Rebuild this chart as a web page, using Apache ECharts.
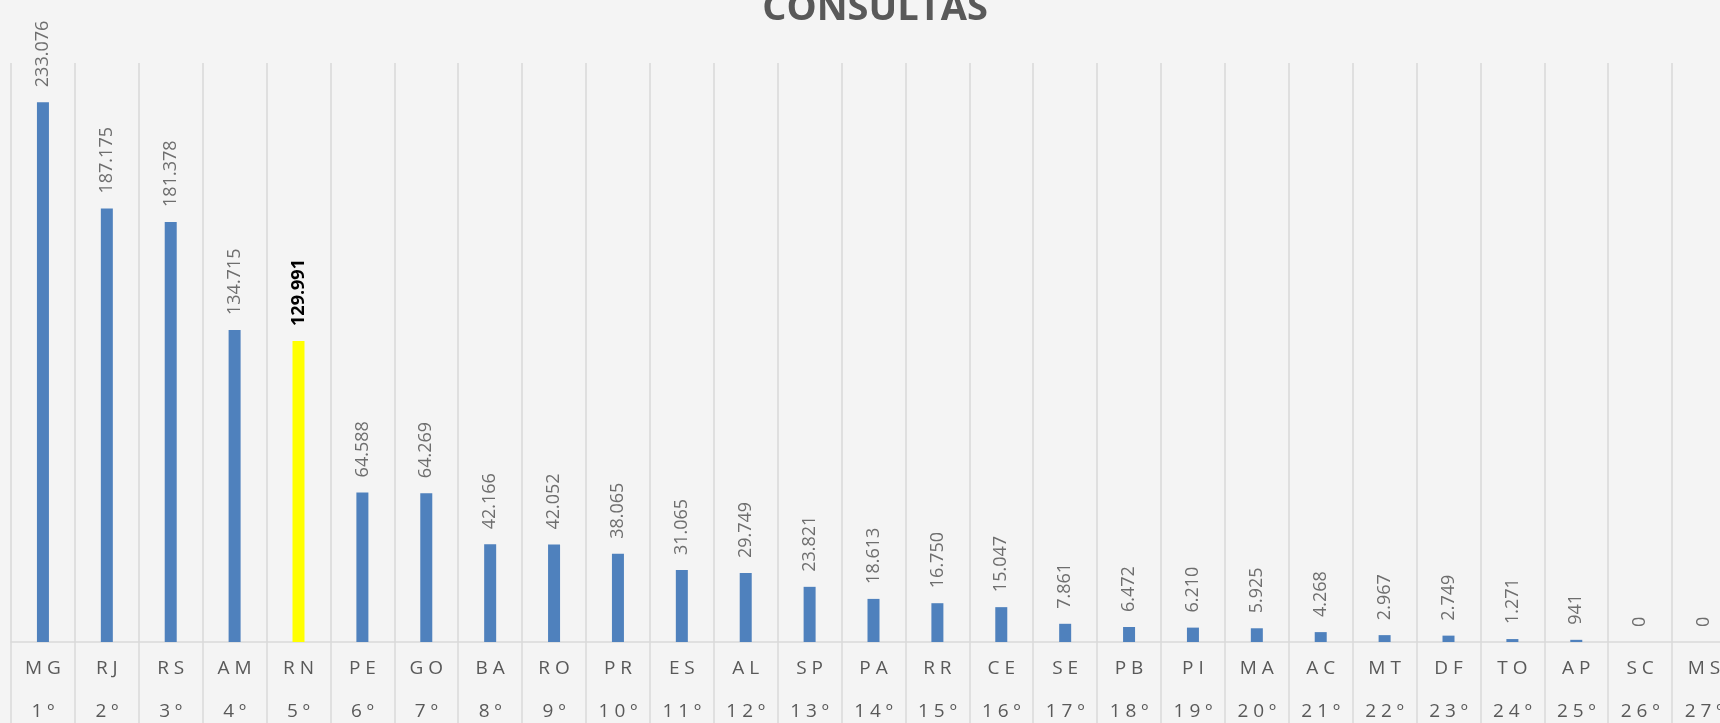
<!DOCTYPE html>
<html>
<head>
<meta charset="utf-8">
<title>Consultas</title>
<script src="https://cdn.jsdelivr.net/npm/echarts@6/dist/echarts.min.js"></script>
<style>
  html, body { margin: 0; padding: 0; background: #f4f4f4; }
  #chart { width: 1720px; height: 723px; }
</style>
</head>
<body>
<div id="chart"></div>
<script>
// dados
var estados = ['MG', 'RJ', 'RS', 'AM', 'RN', 'PE', 'GO', 'BA', 'RO', 'PR', 'ES', 'AL', 'SP', 'PA',
    'RR', 'CE', 'SE', 'PB', 'PI', 'MA', 'AC', 'MT', 'DF', 'TO', 'AP', 'SC', 'MS'];
var posicoes = ['1º', '2º', '3º', '4º', '5º', '6º', '7º', '8º', '9º', '10º', '11º', '12º', '13º', '14º',
    '15º', '16º', '17º', '18º', '19º', '20º', '21º', '22º', '23º', '24º', '25º', '26º', '27º'];
var consultas = [233076, 187175, 181378, 134715, 129991, 64588, 64269, 42166, 42052, 38065, 31065, 29749, 23821, 18613,
    16750, 15047, 7861, 6472, 6210, 5925, 4268, 2967, 2749, 1271, 941, 0, 0];
var destaque = 'RN';

function milhar (v) {
    return String(v).replace(/\B(?=(\d{3})+(?!\d))/g, '.');
}
function espacado (s, sep) {
    return s.split('').join(sep || ' ');
}

var myChart = echarts.init(document.getElementById('chart'));

var dados = consultas.map(function (v, i) {
    if (estados[i] === destaque) {
        return {
            value: v,
            itemStyle: { color: '#ffff00' },
            label: { color: '#000000', fontWeight: 'bold' }
        };
    }
    return v;
});

myChart.setOption({
    backgroundColor: '#f4f4f4',
    textStyle: { fontFamily: 'Open Sans' },
    title: {
        text: 'CONSULTAS',
        left: 870,
        textAlign: 'center',
        top: -15,
        textStyle: { fontSize: 38, fontWeight: 'bold', color: '#595959', lineHeight: 38 }
    },
    grid: { left: 11, top: 63, width: 1725, height: 579, outerBoundsMode: 'none' },
    xAxis: {
        type: 'category',
        data: estados,
        axisLine: { lineStyle: { color: '#d9d9d9', width: 1.5 } },
        axisTick: { show: true, length: 82, lineStyle: { color: '#d9d9d9', width: 1.5 } },
        splitLine: { show: true, lineStyle: { color: '#d9d9d9', width: 1.5 } },
        axisLabel: {
            interval: 0,
            margin: 5,
            formatter: function (v, i) {
                return '{a|' + espacado(v) + '}\n{b|' + espacado(posicoes[i]) + '}';
            },
            rich: {
                a: { fontSize: 19, color: '#595959', lineHeight: 43 },
                b: { fontSize: 19, color: '#595959', lineHeight: 43 }
            }
        }
    },
    yAxis: {
        type: 'value',
        min: 0,
        max: 250000,
        show: false,
        splitLine: { show: false }
    },
    series: [{
        name: 'Consultas',
        type: 'bar',
        barWidth: 12,
        data: dados,
        itemStyle: { color: '#4f81bd' },
        label: {
            show: true,
            position: 'top',
            rotate: 90,
            align: 'left',
            verticalAlign: 'middle',
            distance: 15,
            fontSize: 18,
            color: '#6e6e6e',
            formatter: function (p) { return milhar(p.value); }
        }
    }]
});
</script>
</body>
</html>
